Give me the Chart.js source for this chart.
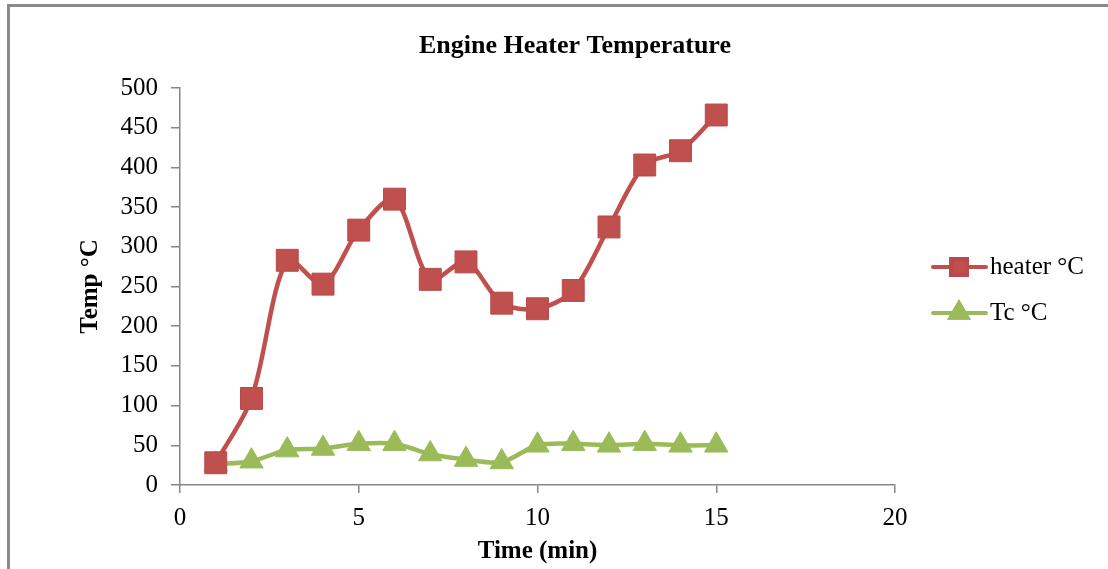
<!DOCTYPE html>
<html>
<head>
<meta charset="utf-8">
<title>Engine Heater Temperature</title>
<script src="https://cdn.jsdelivr.net/npm/chart.js@4.4.1/dist/chart.umd.min.js"></script>
<style>
  html, body { margin: 0; padding: 0; background: #fff; overflow: hidden; }
  #frame {
    position: absolute; left: 7px; top: 4px; width: 2000px; height: 2000px;
    border-left: 3px solid #898989; border-top: 3px solid #898989;
  }
  #wrap { position: absolute; left: 0; top: 0; width: 1108px; height: 569px; }
</style>
</head>
<body>
<div id="frame"></div>
<div id="wrap"><canvas id="chart"></canvas></div>
<script>
// values
const timeMin = [1, 2, 3, 4, 5, 6, 7, 8, 9, 10, 11, 12, 13, 14, 15];
const heaterC = [28, 109, 283, 253, 321, 360, 259, 281, 229, 222, 245, 325, 403, 421, 466];
const tcC = [26, 30, 44, 46, 52, 52, 39, 32, 29, 50, 52, 50, 52, 50, 50];
const seriesNames = ['heater °C', 'Tc °C'];
const chartTitle = 'Engine Heater Temperature';
const xTitle = 'Time (min)';
const yTitle = 'Temp °C';

const RED = '#C0504D';
const GREEN = '#9BBB59';
const AXIS = '#868686';
const FONT = '"Liberation Serif", "Times New Roman", serif';

function toPoints(xs, ys) {
    return xs.map((x, i) => ({ x: x, y: ys[i] }));
}

// title and legend are drawn by hand so they sit where Excel put them
const decorations = {
    id: 'decorations',
    afterDraw(chart) {
        const ctx = chart.ctx;
        ctx.save();
        ctx.fillStyle = '#000';
        ctx.font = 'bold 26px ' + FONT;
        ctx.textAlign = 'center';
        ctx.textBaseline = 'middle';
        ctx.fillText(chartTitle, 575, 46);

        const rows = [267, 313];
        chart.data.datasets.forEach((ds, i) => {
            const y = rows[i];
            ctx.strokeStyle = ds.borderColor;
            ctx.lineWidth = 4;
            ctx.lineCap = 'round';
            ctx.beginPath();
            ctx.moveTo(933, y);
            ctx.lineTo(986, y);
            ctx.stroke();
            Chart.helpers.drawPoint(ctx, {
                pointStyle: ds.pointStyle,
                radius: ds.pointRadius * 0.72,
                borderWidth: 1
            }, 959, y);
            ctx.fillStyle = ds.pointBackgroundColor;
            ctx.strokeStyle = ds.pointBorderColor;
            ctx.fill();
            ctx.stroke();
            ctx.fillStyle = '#000';
            ctx.font = '25px ' + FONT;
            ctx.textAlign = 'left';
            ctx.textBaseline = 'middle';
            ctx.fillText(ds.label, 990, y);
        });
        ctx.restore();
    }
};

new Chart(document.getElementById('chart'), {
    type: 'scatter',
    data: {
        datasets: [
            {
                label: seriesNames[0],
                data: toPoints(timeMin, heaterC),
                showLine: true,
                tension: 0.3,
                borderColor: RED,
                borderWidth: 4.5,
                pointStyle: 'rect',
                pointRadius: 15.5,
                pointBackgroundColor: RED,
                pointBorderColor: '#B9494A',
                pointBorderWidth: 1
            },
            {
                label: seriesNames[1],
                data: toPoints(timeMin, tcC),
                showLine: true,
                tension: 0.3,
                borderColor: GREEN,
                borderWidth: 4.5,
                pointStyle: 'triangle',
                pointRadius: 13.5,
                pointBackgroundColor: GREEN,
                pointBorderColor: GREEN,
                pointBorderWidth: 1
            }
        ]
    },
    options: {
        responsive: true,
        maintainAspectRatio: false,
        animation: false,
        layout: { padding: { top: 88, right: 213, bottom: 0, left: 0 } },
        plugins: {
            legend: { display: false },
            title: { display: false },
            tooltip: { enabled: false }
        },
        scales: {
            x: {
                type: 'linear',
                min: 0,
                max: 20,
                afterFit: (scale) => { scale.height = 84; },
                ticks: { stepSize: 5, color: '#000', padding: 10, font: { family: FONT, size: 25 } },
                grid: { drawOnChartArea: false, drawTicks: true, tickLength: 8, color: AXIS, lineWidth: 1.5 },
                border: { color: AXIS, width: 1.5 },
                title: { display: true, text: xTitle, color: '#000', padding: { top: 0, bottom: 2 },
                         font: { family: FONT, size: 25, weight: 'bold' } }
            },
            y: {
                min: 0,
                max: 500,
                afterFit: (scale) => { scale.width = 180; },
                ticks: { stepSize: 50, color: '#000', padding: 13, font: { family: FONT, size: 25 } },
                grid: { drawOnChartArea: false, drawTicks: true, tickLength: 9, color: AXIS, lineWidth: 1.5 },
                border: { color: AXIS, width: 1.5 },
                title: { display: true, text: yTitle, color: '#000', padding: { top: 76, bottom: 0 },
                         font: { family: FONT, size: 25, weight: 'bold' } }
            }
        }
    },
    plugins: [decorations]
});
</script>
</body>
</html>
